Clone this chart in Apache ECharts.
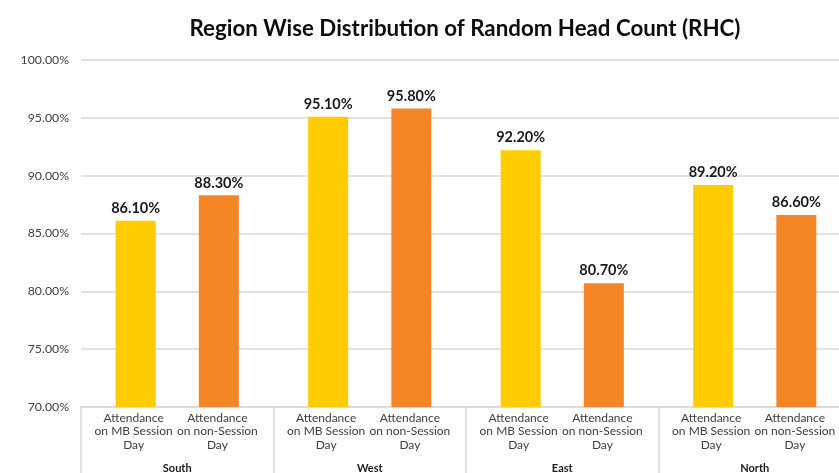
<!DOCTYPE html>
<html>
<head>
<meta charset="utf-8">
<script src="https://cdn.jsdelivr.net/npm/echarts@6/dist/echarts.min.js"></script>
<style>
  html, body { margin: 0; padding: 0; background: #fff; }
  #chart { width: 839px; height: 473px; }
</style>
</head>
<body>
<div id="chart"></div>
<script>
// Regions (outer axis level) and the two attendance measures (inner level)
const regions = ['South', 'West', 'East', 'North'];
const measures = ['Attendance\non MB Session\nDay', 'Attendance\non non-Session\nDay'];

// Attendance percentages per region
const mbSessionDay = [86.1, 95.1, 92.2, 89.2];
const nonSessionDay = [88.3, 95.8, 80.7, 86.6];

// Value axis range
const yMin = 70;
const yMax = 100;
const yStep = 5;

const FONT = 'Lato, "Open Sans", sans-serif';

// Inner labels: one under each bar, for every region
const innerCats = [];
regions.forEach(() => measures.forEach(m => innerCats.push(m)));

const chart = echarts.init(document.getElementById('chart'));

const labelStyle = {
  show: true,
  position: 'top',
  distance: 5,
  formatter: p => p.value.toFixed(2) + '%',
  fontFamily: FONT,
  fontWeight: 'bold',
  fontSize: 14.5,
  color: '#1a1a1a'
};

chart.setOption({
  animation: false,
  title: {
    text: 'Region Wise Distribution of Random Head Count (RHC)',
    left: 460,
    top: 13,
    textAlign: 'center',
    textStyle: { fontFamily: FONT, fontWeight: 'bold', fontSize: 22.3, color: '#0d0d0d' }
  },
  grid: { left: 81, top: 60, width: 770, height: 347, containLabel: false, outerBoundsMode: 'none' },
  xAxis: [
    {
      type: 'category',
      data: regions,
      position: 'bottom',
      axisLine: { show: true, lineStyle: { color: '#d9d9d9', width: 1.5 } },
      axisTick: { show: true, length: 80, interval: 0, lineStyle: { color: '#d9d9d9', width: 1.5 } },
      axisLabel: {
        interval: 0, margin: 56,
        fontFamily: FONT, fontWeight: 'bold', fontSize: 11, color: '#1a1a1a'
      },
      splitLine: { show: false }
    },
    {
      type: 'category',
      data: innerCats,
      position: 'bottom',
      axisLine: { show: false },
      axisTick: { show: false },
      axisLabel: {
        interval: 0, margin: 4,
        fontFamily: FONT, fontSize: 12, color: '#404040', lineHeight: 14,
        formatter: (v, i) => {
          const tag = i % 2 === 0 ? 'a' : 'b';
          return v.split('\n').map(s => '{' + tag + '|' + s + '}').join('\n');
        },
        rich: {
          a: { fontFamily: FONT, fontSize: 12, color: '#404040', lineHeight: 13.5, padding: [0, 0, 0, 9] },
          b: { fontFamily: FONT, fontSize: 12, color: '#404040', lineHeight: 13.5, padding: [0, 16, 0, 0] }
        }
      }
    }
  ],
  yAxis: {
    type: 'value',
    min: yMin, max: yMax, interval: yStep,
    axisLine: { show: false },
    axisTick: { show: false },
    axisLabel: {
      margin: 12,
      formatter: v => v.toFixed(2) + '%',
      fontFamily: FONT, fontSize: 12.3, color: '#404040'
    },
    splitLine: { lineStyle: { color: '#d9d9d9', width: 1.5 } }
  },
  series: [
    {
      name: 'Attendance on MB Session Day',
      type: 'bar',
      xAxisIndex: 0,
      data: mbSessionDay,
      barWidth: 40,
      barGap: '108%',
      itemStyle: { color: '#FFCC00' },
      label: labelStyle
    },
    {
      name: 'Attendance on non-Session Day',
      type: 'bar',
      xAxisIndex: 0,
      data: nonSessionDay,
      barWidth: 40,
      barGap: '108%',
      itemStyle: { color: '#F58626' },
      label: labelStyle
    }
  ]
});
</script>
</body>
</html>
